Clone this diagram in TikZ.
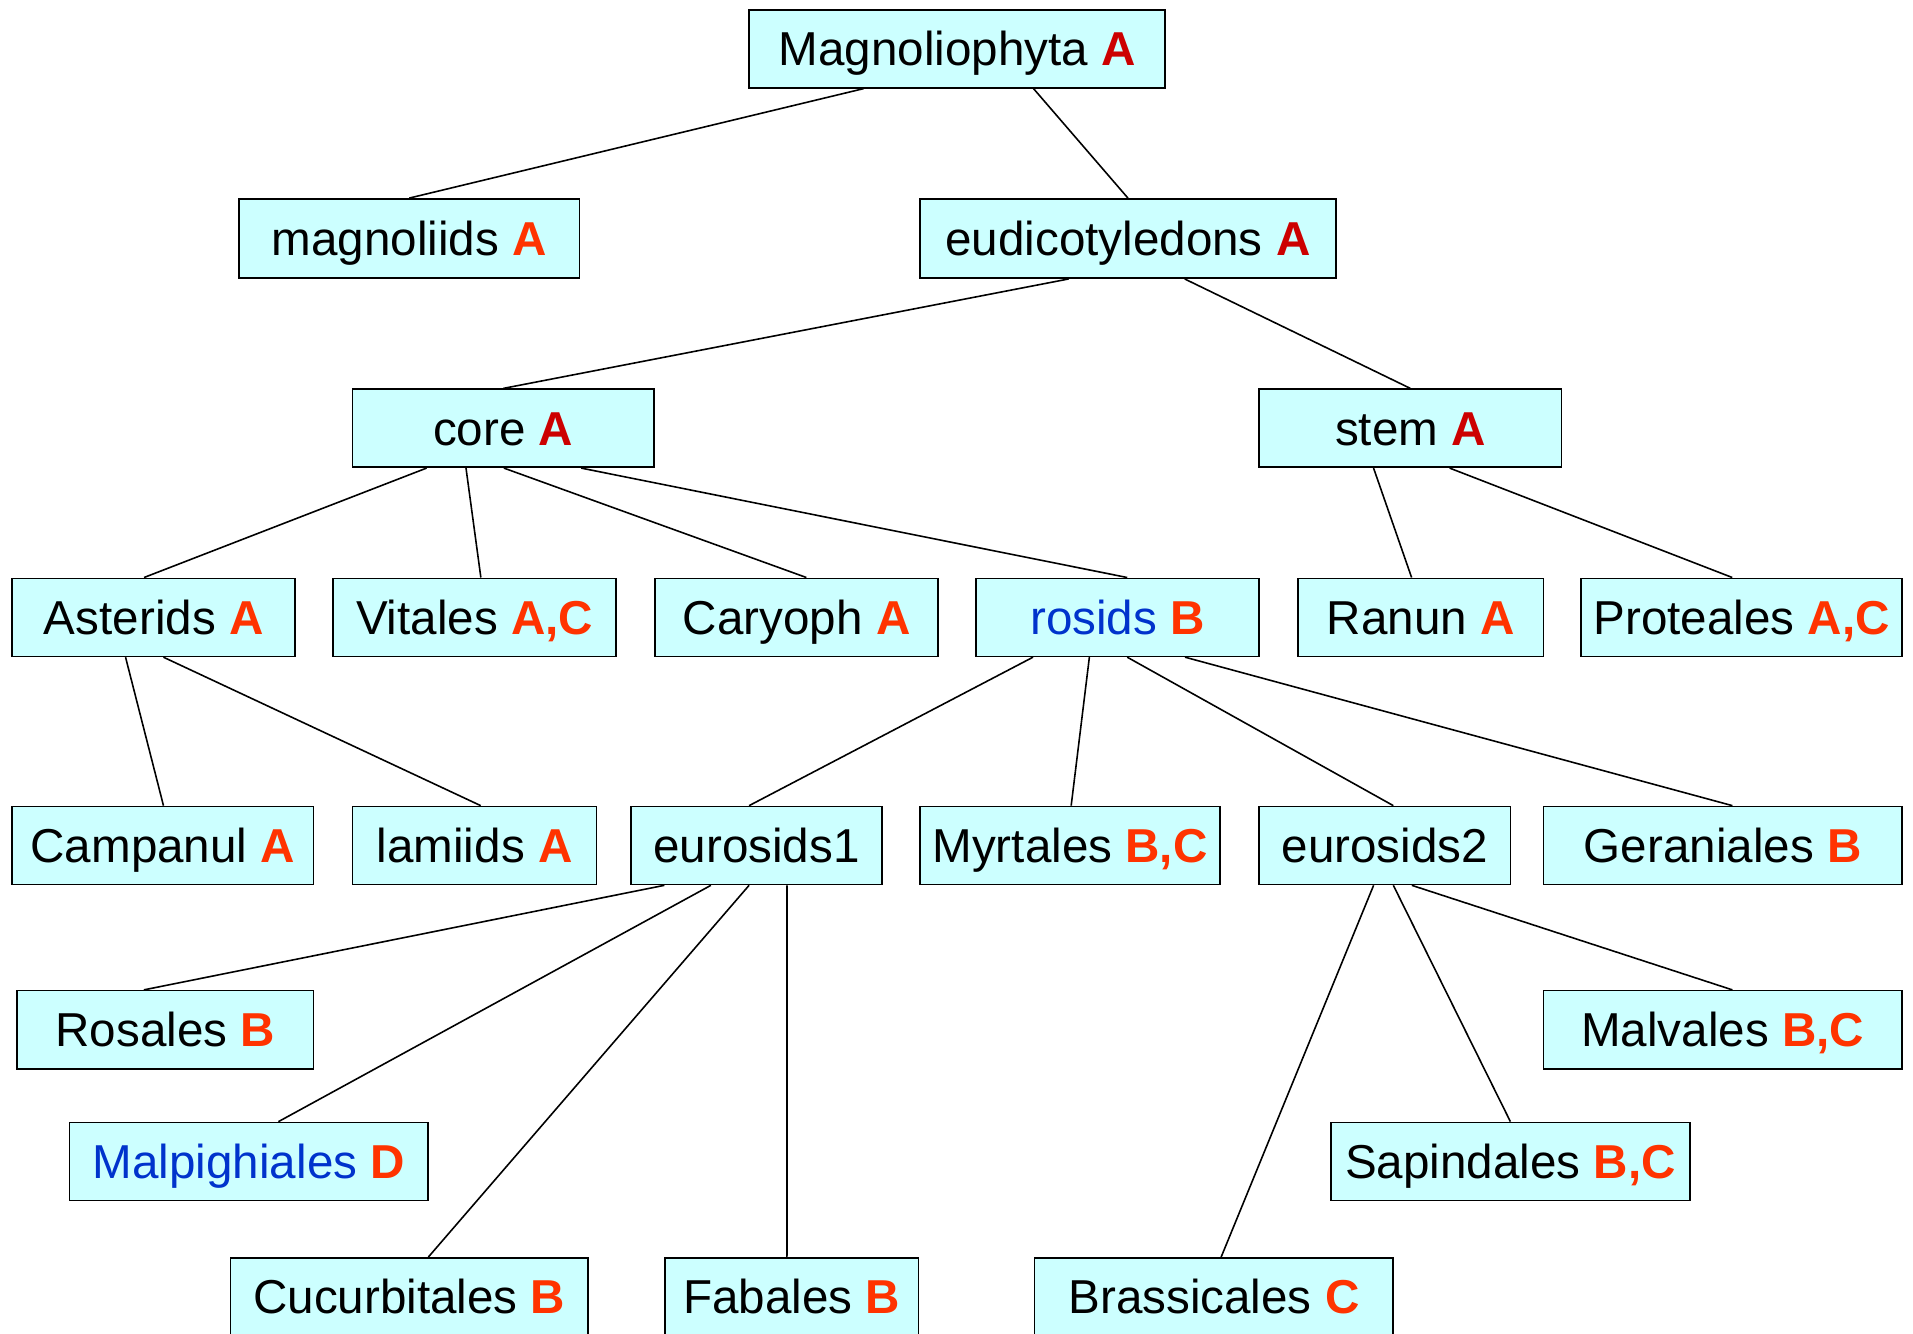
\documentclass[tikz,border=0pt]{standalone}
\usepackage{fontspec}
\setmainfont{Liberation Sans}
\usetikzlibrary{calc}
\definecolor{boxfill}{HTML}{CCFFFF}
\definecolor{dred}{HTML}{CC0000}
\definecolor{ored}{HTML}{FF3300}
\definecolor{tblue}{HTML}{0033CC}
\newcommand\dA[1]{\textcolor{dred}{\bfseries #1}}
\newcommand\oA[1]{\textcolor{ored}{\bfseries #1}}
\newcommand\bx[6]{\node[box, minimum width={(#4-#2)*1pt}, minimum height={(#5-#3)*1pt}] (#1) at ({(#2+#4)/2},{(#3+#5)/2}) {#6};}
\newcommand\conn[4]{\draw[link] ($(#1.south west)!#2!(#1.south east)$) -- ($(#3.north west)!#4!(#3.north east)$);}
\begin{document}
\begin{tikzpicture}[x=1pt,y=-1pt,
  box/.style={draw=black, fill=boxfill, line width=1.3pt, inner sep=0pt, text height=28pt, text depth=0pt, font=\fontsize{39}{40}\selectfont, anchor=center},
  link/.style={draw=black, line width=1.3pt}]
\useasboundingbox (0,0) rectangle (1568,1093);
\clip (0,0) rectangle (1568,1093);
\fill[white] (0,0) rectangle (1568,1093);
% row 0
\bx{mag}{614}{8}{955}{72}{Magnoliophyta \dA{A}}
% row 1
\bx{magn}{196}{163}{475}{228}{magnoliids \oA{A}}
\bx{eud}{754}{163}{1095}{228}{eudicotyledons \dA{A}}
% row 2
\bx{core}{289}{319}{536}{383}{core \dA{A}}
\bx{stem}{1032}{319}{1280}{383}{stem \dA{A}}
% row 3
\bx{ast}{10}{474}{242}{538}{Asterids \oA{A}}
\bx{vit}{273}{474}{505}{538}{Vitales \oA{A,C}}
\bx{car}{537}{474}{769}{538}{Caryoph \oA{A}}
\bx{ros}{800}{474}{1032}{538}{\textcolor{tblue}{rosids} \oA{B}}
\bx{ran}{1064}{474}{1265}{538}{Ranun \oA{A}}
\bx{pro}{1296}{474}{1559}{538}{Proteales \oA{A,C}}
% row 4
\bx{cam}{10}{661}{257}{725}{Campanul \oA{A}}
\bx{lam}{289}{661}{489}{725}{lamiids \oA{A}}
\bx{eu1}{517}{661}{723}{725}{eurosids1}
\bx{myr}{754}{661}{1000}{725}{Myrtales \oA{B,C}}
\bx{eu2}{1032}{661}{1238}{725}{eurosids2}
\bx{ger}{1265}{661}{1559}{725}{Geraniales \oA{B}}
% row 5
\bx{rosa}{14}{812}{257}{876}{Rosales \oA{B}}
\bx{malv}{1265}{812}{1559}{876}{Malvales \oA{B,C}}
% row 6
\bx{malp}{57}{920}{351}{984}{\textcolor{tblue}{Malpighiales} \oA{D}}
\bx{sap}{1091}{920}{1385}{984}{Sapindales \oA{B,C}}
% row 7
\bx{cuc}{189}{1031}{482}{1095}{Cucurbitales \oA{B}}
\bx{fab}{545}{1031}{753}{1095}{Fabales \oA{B}}
\bx{bra}{848}{1031}{1142}{1095}{Brassicales \oA{C}}
% connectors
\conn{mag}{0.276}{magn}{0.5}
\conn{mag}{0.683}{eud}{0.5}
\conn{eud}{0.358}{core}{0.5}
\conn{eud}{0.636}{stem}{0.5}
\conn{core}{0.247}{ast}{0.466}
\conn{core}{0.377}{vit}{0.522}
\conn{core}{0.502}{car}{0.534}
\conn{core}{0.757}{ros}{0.534}
\conn{stem}{0.379}{ran}{0.463}
\conn{stem}{0.629}{pro}{0.471}
\conn{ast}{0.401}{cam}{0.502}
\conn{ast}{0.534}{lam}{0.525}
\conn{ros}{0.203}{eu1}{0.471}
\conn{ros}{0.401}{myr}{0.504}
\conn{ros}{0.534}{eu2}{0.534}
\conn{ros}{0.737}{ger}{0.527}
\conn{eu1}{0.136}{rosa}{0.428}
\conn{eu1}{0.320}{malp}{0.582}
\conn{eu1}{0.471}{cuc}{0.553}
\conn{eu1}{0.621}{fab}{0.481}
\conn{eu2}{0.456}{bra}{0.520}
\conn{eu2}{0.534}{sap}{0.500}
\conn{eu2}{0.607}{malv}{0.527}
\end{tikzpicture}
\end{document}
